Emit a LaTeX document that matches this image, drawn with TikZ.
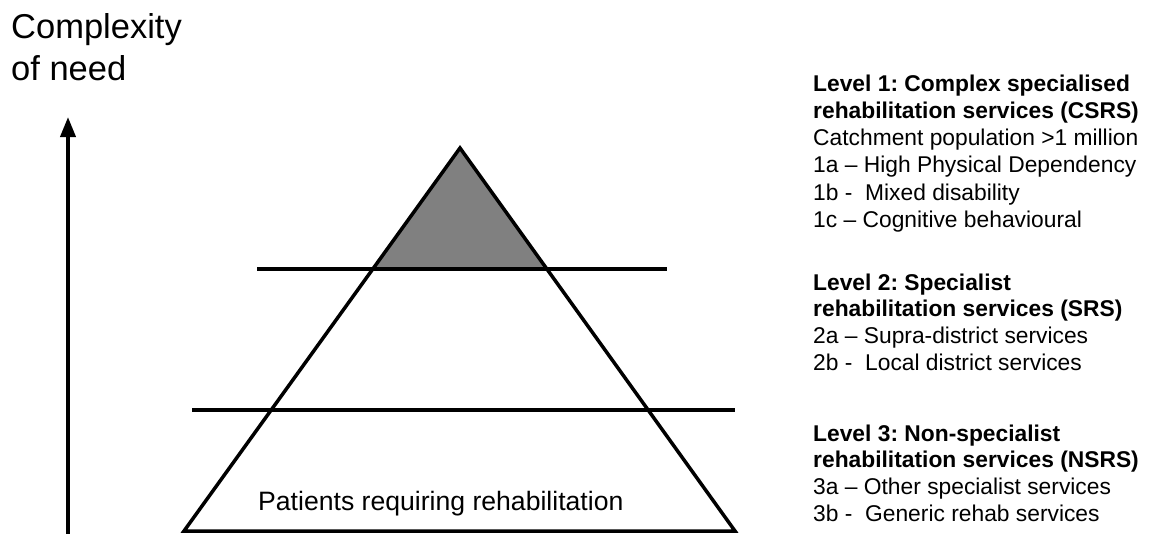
\documentclass[tikz,border=0pt]{standalone}
\usepackage{fontspec}
\setmainfont{Liberation Sans}
\usetikzlibrary{arrows.meta,calc}
\definecolor{topgray}{RGB}{128,128,128}
\tikzset{
  ln/.style={line width=3.5pt},
  rtxt/.style={anchor=base west,inner sep=0pt,font=\fontsize{22.8}{27}\selectfont},
  rbold/.style={rtxt,font=\fontsize{22.8}{27}\selectfont\bfseries},
}
\frenchspacing
\begin{document}
\begin{tikzpicture}[x=1pt,y=-1pt]
\useasboundingbox (0,0) rectangle (1149,533);
% axis label and arrow
\node[anchor=base west,inner sep=0pt,font=\fontsize{34.5}{40}\selectfont] (c1) at (11,38) {Complexity};
\node[anchor=base west,inner sep=0pt,font=\fontsize{34.5}{40}\selectfont] (c2) at (11,80) {of need};
\coordinate (ab) at (68,536);
\coordinate (at) at (68,117);
\draw[line width=3.8pt,-{Triangle[width=15pt,length=20pt]}] (ab) -- (at);
% pyramid
\coordinate (apex) at (460,148);
\coordinate (bl) at (184,531);
\coordinate (br) at (735,531);
\coordinate (g1) at ($(apex)!0.3159!(bl)$);
\coordinate (g2) at ($(apex)!0.3159!(br)$);
\fill[topgray] (apex) -- (g1) -- (g2) -- cycle;
\draw[ln,line join=miter] (bl) -- (apex) -- (br) -- cycle;
\coordinate (h1a) at (257,269);
\coordinate (h1b) at (667,269);
\coordinate (h2a) at (192,410);
\coordinate (h2b) at (735,410);
\draw[ln] (h1a) -- (h1b);
\draw[ln] (h2a) -- (h2b);
\node[anchor=base west,inner sep=0pt,font=\fontsize{26.6}{32}\selectfont] (pat) at (258,510) {Patients requiring rehabilitation};
% level texts
\node[rbold] (l1a) at (813,91) {Level 1: Complex specialised};
\node[rbold] (l1b) at (813,118) {rehabilitation services (CSRS)};
\node[rtxt] (l1c) at (813,145) {Catchment population >1 million};
\node[rtxt] (l1d) at (813,172.5) {1a -- High Physical Dependency};
\node[rtxt] (l1e) at (813,200) {1b -\ \ Mixed disability};
\node[rtxt] (l1f) at (813,227.5) {1c -- Cognitive behavioural};
\node[rbold] (l2a) at (813,290) {Level 2: Specialist};
\node[rbold] (l2b) at (813,316.5) {rehabilitation services (SRS)};
\node[rtxt] (l2c) at (813,343) {2a -- Supra-district services};
\node[rtxt] (l2d) at (813,370) {2b -\ \ Local district services};
\node[rbold] (l3a) at (813,441) {Level 3: Non-specialist};
\node[rbold] (l3b) at (813,467.5) {rehabilitation services (NSRS)};
\node[rtxt] (l3c) at (813,494) {3a -- Other specialist services};
\node[rtxt] (l3d) at (813,521.5) {3b -\ \ Generic rehab services};
\end{tikzpicture}
\end{document}
